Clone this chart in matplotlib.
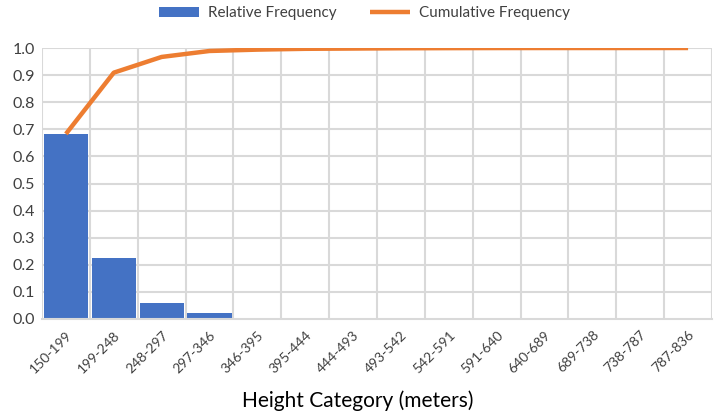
import numpy as np
import matplotlib.pyplot as plt

plt.rcParams['font.family'] = ['Lato', 'DejaVu Sans']

# values
categories = ["150-199", "199-248", "248-297", "297-346", "346-395", "395-444", "444-493",
              "493-542", "542-591", "591-640", "640-689", "689-738", "738-787", "787-836"]
relative_freq = [0.683, 0.226, 0.058, 0.022, 0.005, 0.003, 0.001,
                 0.001, 0.0005, 0.0003, 0.0001, 0.0, 0.0, 0.0001]
cumulative_freq = [0.683, 0.909, 0.967, 0.989, 0.994, 0.997, 0.998,
                   0.999, 0.9995, 0.9998, 0.9999, 0.9999, 0.9999, 1.0]

BLUE = '#4472C4'
ORANGE = '#ED7D31'
GRID = '#d9d9d9'

fig = plt.figure(figsize=(7.15, 4.12), dpi=100)
ax = fig.add_axes([42 / 715, 1 - 319 / 412, 670 / 715, 271 / 412])

x = np.arange(len(categories))
bars = ax.bar(x, relative_freq, width=0.92, color=BLUE, label='Relative Frequency', zorder=2)
line, = ax.plot(x, cumulative_freq, color=ORANGE, lw=3.2, label='Cumulative Frequency',
                solid_capstyle='butt', zorder=3)

ax.set_xlim(-0.5, len(categories) - 0.5)
ax.set_ylim(0, 1.0)
ax.set_yticks(np.arange(0, 1.01, 0.1))
ax.set_yticklabels([f"{v:.1f}" for v in np.arange(0, 1.01, 0.1)], fontsize=11.5)

# horizontal grid at ticks, vertical grid at category boundaries
for yv in np.arange(0.1, 1.01, 0.1):
    ax.axhline(yv, color=GRID, lw=1.5, zorder=1)
for b in np.arange(-0.5, len(categories), 1.0):
    ax.axvline(b, color=GRID, lw=1.5, zorder=1)

ax.set_xticks(x)
ax.set_xticklabels(categories, rotation=45, ha='right', rotation_mode='anchor', fontsize=10,
                   color='#404040')
ax.tick_params(length=0, pad=7)
ax.tick_params(axis='y', pad=5, colors='#404040')
for s in ['top', 'right', 'left']:
    ax.spines[s].set_visible(False)
ax.spines['bottom'].set_color(GRID)
ax.spines['bottom'].set_linewidth(1.5)

ax.set_xlabel('Height Category (meters)', fontsize=15)
ax.xaxis.set_label_coords((357.5 - 42) / 670, -0.262)

fig.legend([bars, line], ['Relative Frequency', 'Cumulative Frequency'],
           loc='upper center', bbox_to_anchor=(0.51, 1.018), ncol=2, frameon=False,
           fontsize=11, handlelength=2.6, columnspacing=2.2, handletextpad=0.6,
           labelcolor='#404040')

fig.savefig('out.png', dpi=100)
